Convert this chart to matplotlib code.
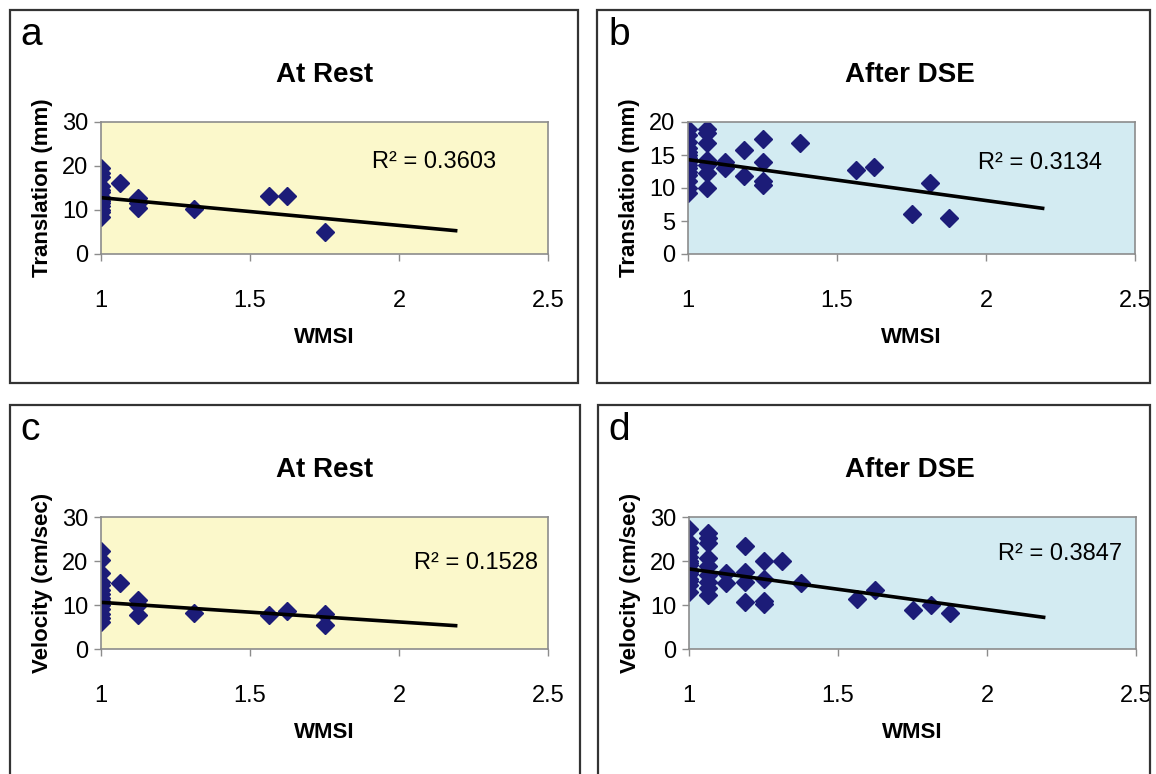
import numpy as np
import matplotlib.pyplot as plt
from matplotlib.patches import Rectangle

plt.rcParams['font.family'] = ['Liberation Sans', 'DejaVu Sans']

# ---- data ----
# a: translation at rest
a_x = [1]*14 + [1.0625] + [1.125]*3 + [1.3125, 1.5625, 1.625, 1.75]
a_y = [19.5, 18.5, 17.5, 15.5, 14.5, 14, 13, 12.5, 12, 11.5, 11, 10, 9.5, 8.5,
       16.1, 12.8, 11.5, 10.5, 10.2, 13.2, 13.2, 4.9]
a_fit = [-6.3, 19.1]      # slope, intercept
a_r2 = '0.3603'

# b: translation after DSE
b_x = ([1]*15 + [1.0625]*7 + [1.125]*2 + [1.1875]*2 + [1.25]*4
       + [1.375, 1.5625, 1.625, 1.75, 1.8125, 1.875])
b_y = [19, 18, 17, 16, 15.5, 15, 14.5, 14, 13.5, 13, 12.5, 12, 11, 10, 9.2,
       19, 18.3, 16.8, 14.3, 13.5, 12.3, 10,
       14, 13,
       15.8, 11.8,
       17.4, 13.9, 11, 10.4,
       16.8, 12.7, 13.2, 6.0, 10.8, 5.4]
b_fit = [-6.2, 20.5]
b_r2 = '0.3134'

# c: velocity at rest
c_x = [1]*14 + [1.0625] + [1.125]*3 + [1.3125, 1.5625, 1.625, 1.75, 1.75]
c_y = [22.2, 20.3, 17.2, 15.3, 14.5, 13.5, 12.5, 11.5, 11, 10, 9, 8, 7, 6.2,
       15.0, 11.2, 10, 7.7, 8.1, 7.7, 8.7, 8.0, 5.5]
c_fit = [-4.45, 15.05]
c_r2 = '0.1528'

# d: velocity after DSE
d_x = ([1]*15 + [1.0625]*9 + [1.125]*2 + [1.1875]*4 + [1.25]*4
       + [1.3125, 1.375, 1.5625, 1.625, 1.75, 1.8125, 1.875])
d_y = [27.3, 24.4, 23, 22, 21, 20, 19.5, 19, 18, 17.5, 17, 16, 15.5, 14.5, 12.9,
       26.3, 25.2, 24.2, 20.7, 18.8, 16.9, 15.3, 13.8, 12.2,
       17.2, 15.0,
       23.3, 17.6, 15.2, 10.6,
       20.0, 16.0, 10.8, 10.2,
       20.0, 15.1, 11.4, 13.3, 8.9, 10.0, 8.1]
d_fit = [-9.24, 27.44]
d_r2 = '0.3847'

fit_end = 2.19
x_ticks = [1, 1.5, 2, 2.5]
x_tick_labels = ['1', '1.5', '2', '2.5']

YELLOW = '#fbf8cb'
BLUE = '#d3ebf2'
NAVY = '#1c1c78'

W, H = 1156, 774
fig = plt.figure(figsize=(W / 100, H / 100), dpi=100)


def fx(px):
    return px / W


def fy(py):
    return 1 - py / H


# panel frames
for (x0, y0, x1, y1) in [(10, 10, 578, 383), (597, 10, 1150, 383),
                         (10, 405, 580, 790), (598, 405, 1150, 790)]:
    fig.patches.append(Rectangle((fx(x0), fy(y1)), fx(x1 - x0), fy(y0) - fy(y1),
                                 transform=fig.transFigure, fill=False,
                                 edgecolor='#333333', linewidth=1.6))

panels = [
    # x, y, fit, r2, bg, ymax, yticks, ylabel, title, letter, left px, top px,
    # r2 pos, letter pos, title x
    (a_x, a_y, a_fit, a_r2, YELLOW, 30, [0, 10, 20, 30], 'Translation (mm)',
     'At Rest', 'a', 101, 122, (372, 162), (20, 35), 325),
    (b_x, b_y, b_fit, b_r2, BLUE, 20, [0, 5, 10, 15, 20], 'Translation (mm)',
     'After DSE', 'b', 688, 122, (978, 163), (608, 35), 910),
    (c_x, c_y, c_fit, c_r2, YELLOW, 30, [0, 10, 20, 30], 'Velocity (cm/sec)',
     'At Rest', 'c', 101, 517, (414, 563), (20, 430), 325),
    (d_x, d_y, d_fit, d_r2, BLUE, 30, [0, 10, 20, 30], 'Velocity (cm/sec)',
     'After DSE', 'd', 689, 517, (998, 554), (608, 430), 910),
]

for (xs, ys, fit, r2, bg, ymax, yticks, ylabel, title, letter,
     left, top, r2pos, letpos, tx) in panels:
    ax = fig.add_axes([fx(left), fy(top + 132), fx(447), 132 / H])
    ax.set_facecolor(bg)
    ax.plot(xs, ys, linestyle='none', marker='D', markersize=9,
            color=NAVY, markeredgecolor=NAVY)
    lx = np.array([1, fit_end])
    ax.plot(lx, fit[0] * lx + fit[1], color='black', linewidth=2.6)
    ax.set_xlim(1, 2.5)
    ax.set_ylim(0, ymax)
    ax.set_xticks(x_ticks)
    ax.set_xticklabels(x_tick_labels)
    ax.set_yticks(yticks)
    for s in ax.spines.values():
        s.set_color('#8c8c8c')
        s.set_linewidth(1.2)
    ax.tick_params(axis='x', direction='out', length=5, width=1, color='#8c8c8c',
                   labelsize=17, pad=21)
    ax.tick_params(axis='y', direction='out', length=5, width=1, color='#8c8c8c',
                   labelsize=17, pad=4)
    ax.set_xlabel('WMSI', fontsize=16, fontweight='bold', labelpad=11)
    ax.set_ylabel(ylabel, fontsize=16, fontweight='bold', labelpad=7)

    fig.text(fx(r2pos[0]), fy(r2pos[1]), 'R² = ' + r2, fontsize=17,
             ha='left', va='center')
    fig.text(fx(tx), fy(letpos[1] + 40), title, fontsize=20, fontweight='bold',
             ha='center', va='center')
    fig.text(fx(letpos[0]), fy(letpos[1]), letter, fontsize=28,
             ha='left', va='center')

fig.savefig('out.png', dpi=100)
